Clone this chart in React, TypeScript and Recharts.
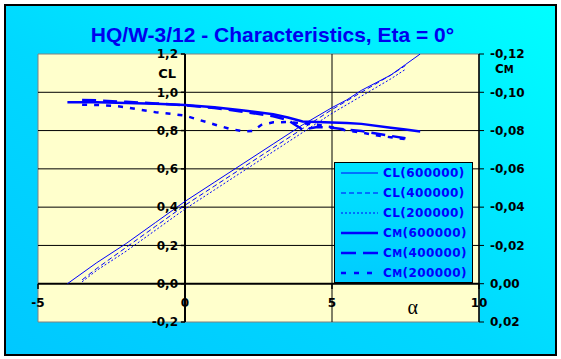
import {
  CartesianGrid,
  Legend,
  Line,
  LineChart,
  ReferenceArea,
  ReferenceDot,
  ReferenceLine,
  XAxis,
  YAxis,
} from "recharts";

const alphaTicks = [-5, 0, 5, 10];
const clTicks = [-0.2, 0, 0.2, 0.4, 0.6, 0.8, 1.0, 1.2];
const clGrid = [0.2, 0.4, 0.6, 0.8, 1.0];
const cmTicks = [-0.12, -0.1, -0.08, -0.06, -0.04, -0.02, 0, 0.02];

const alphaCl600 = [-4, -3, -2, -1, 0, 1, 2, 3, 4, 5, 5.5, 6, 6.5, 7, 7.5, 8];
const cl600 = [0.0, 0.11, 0.21, 0.32, 0.43, 0.53, 0.63, 0.73, 0.83, 0.92, 0.96, 1.01, 1.05, 1.09, 1.145, 1.2];

const alphaCl400 = [-3.5, -3, -2, -1, 0, 1, 2, 3, 4, 5, 6, 7, 7.5];
const cl400 = [0.02, 0.08, 0.19, 0.3, 0.41, 0.51, 0.61, 0.71, 0.81, 0.91, 1.0, 1.09, 1.14];

const alphaCl200 = [-3.5, -3, -2, -1, 0, 1, 2, 3, 4, 5, 6, 7, 7.5];
const cl200 = [0.01, 0.07, 0.17, 0.28, 0.39, 0.49, 0.59, 0.69, 0.79, 0.89, 0.98, 1.07, 1.12];

const alphaCm600 = [-4, -3, -2, -1, 0, 1, 2, 3, 3.5, 4, 5, 5.5, 6, 7, 7.5, 8];
const cm600 = [-0.0948, -0.0948, -0.0944, -0.094, -0.0934, -0.0922, -0.0905, -0.0885, -0.0868, -0.0848, -0.0842, -0.084, -0.0835, -0.0815, -0.0805, -0.0795];

const alphaCm400 = [-3.5, -3, -2, -1, 0, 1, 2, 3, 3.5, 4, 4.5, 5, 5.5, 6, 6.5, 7, 7.5];
const cm400 = [-0.096, -0.0958, -0.095, -0.0942, -0.0932, -0.0918, -0.0898, -0.0875, -0.0855, -0.0805, -0.0818, -0.0815, -0.0805, -0.0798, -0.0785, -0.0772, -0.076];

const alphaCm200 = [-3.5, -3, -2.5, -2, -1.5, -1, -0.5, 0, 0.5, 1, 1.5, 2, 2.3, 2.6, 3, 3.5, 4, 4.5, 5, 5.5, 6, 6.5, 7, 7.5];
const cm200 = [-0.0935, -0.0934, -0.093, -0.0922, -0.0908, -0.0896, -0.0888, -0.0878, -0.0855, -0.0832, -0.081, -0.0795, -0.0798, -0.083, -0.0843, -0.0845, -0.0838, -0.083, -0.0818, -0.08, -0.079, -0.0775, -0.0765, -0.0755];

const BLUE = "#0000ff";
const AXIS_FONT = '"DejaVu Sans", sans-serif';

type Series = {
  key: string;
  name: string;
  sub: string;
  axis: "cl" | "cm";
  alpha: number[];
  values: number[];
  width: number;
  dash?: string;
  legendDash?: string;
};

const series: Series[] = [
  { key: "cl600", name: "L", sub: "(600000)", axis: "cl", alpha: alphaCl600, values: cl600, width: 1 },
  { key: "cl400", name: "L", sub: "(400000)", axis: "cl", alpha: alphaCl400, values: cl400, width: 1, dash: "5 3", legendDash: "5 3" },
  { key: "cl200", name: "L", sub: "(200000)", axis: "cl", alpha: alphaCl200, values: cl200, width: 1, dash: "2 2", legendDash: "2 2" },
  { key: "cm600", name: "M", sub: "(600000)", axis: "cm", alpha: alphaCm600, values: cm600, width: 2.5 },
  { key: "cm400", name: "M", sub: "(400000)", axis: "cm", alpha: alphaCm400, values: cm400, width: 2.5, dash: "14 7", legendDash: "15 7" },
  { key: "cm200", name: "M", sub: "(200000)", axis: "cm", alpha: alphaCm200, values: cm200, width: 2.5, dash: "5 7", legendDash: "5 8" },
];

function toPoints(alpha: number[], values: number[]) {
  return alpha.map((a, i) => ({ a, v: values[i] }));
}

function fmt(value: number, digits: number) {
  return value.toFixed(digits).replace(".", ",");
}

function LegendBox() {
  return (
    <div
      style={{
        width: 139,
        height: 121,
        boxSizing: "border-box",
        border: "1px solid #000",
        background: "linear-gradient(#00e4ff, #00ccff)",
      }}
    >
      {series.map((s) => (
        <div key={s.key} style={{ display: "flex", alignItems: "center", height: 20 }}>
          <svg width={44} height={20}>
            <line
              x1={6}
              x2={43}
              y1={10}
              y2={10}
              stroke={BLUE}
              strokeWidth={s.width}
              strokeDasharray={s.legendDash}
            />
          </svg>
          <span
            style={{
              marginLeft: 4,
              font: `bold 12px ${AXIS_FONT}`,
              color: BLUE,
              letterSpacing: 0.4,
              whiteSpace: "nowrap",
            }}
          >
            C<span style={{ fontSize: s.name === "M" ? 10 : 12 }}>{s.name}</span>
            {s.sub}
          </span>
        </div>
      ))}
    </div>
  );
}

function CmLabel({ viewBox }: { viewBox?: { x: number; y: number } }) {
  if (!viewBox) return null;
  return (
    <text
      x={viewBox.x + 16}
      y={viewBox.y + 19}
      fontFamily={AXIS_FONT}
      fontWeight="bold"
      fontSize={12}
      fill="#000"
    >
      C<tspan fontSize={10}>M</tspan>
    </text>
  );
}

const labelStyle = {
  fontFamily: AXIS_FONT,
  fontWeight: "bold",
  fontSize: 12,
  fill: "#000",
};

export default function App() {
  return (
    <div
      style={{
        position: "absolute",
        left: 0,
        top: 0,
        width: 561,
        height: 359,
        background: "#fff",
      }}
    >
      <div
        style={{
          position: "absolute",
          left: 4,
          top: 4,
          width: 549,
          height: 348,
          border: "2px solid #000",
          background: "linear-gradient(to top right, #00c8ff 0%, #00d8ff 45%, #00ffff 100%)",
        }}
      />
      <div
        style={{
          position: "absolute",
          left: 0,
          top: 23,
          width: 545,
          textAlign: "center",
          font: 'bold 21px "Liberation Sans", Arial, sans-serif',
          lineHeight: "24px",
          color: "#0000ee",
        }}
      >
        HQ/W-3/12 - Characteristics, Eta = 0°
      </div>
      <div style={{ position: "absolute", left: 0, top: 0 }}>
        <LineChart
          width={561}
          height={359}
          margin={{ top: 54, right: 22, bottom: 37, left: 38 }}
        >
          <CartesianGrid
            yAxisId="cl"
            fill="#ffffcc"
            horizontal={false}
            vertical={false}
          />
          <XAxis
            type="number"
            dataKey="a"
            domain={[-5, 10]}
            ticks={alphaTicks}
            allowDataOverflow
            hide
          />
          <YAxis yAxisId="cl" type="number" domain={[-0.2, 1.2]} allowDataOverflow hide />
          <YAxis
            yAxisId="cm"
            orientation="right"
            type="number"
            domain={[-0.12, 0.02]}
            ticks={cmTicks}
            reversed
            allowDataOverflow
            width={60}
            axisLine={{ stroke: "#000", strokeWidth: 1.5 }}
            tickLine={{ stroke: "#000" }}
            tickSize={5}
            tickMargin={6}
            tick={{ ...labelStyle }}
            tickFormatter={(v) => fmt(Number(v), 2)}
            label={<CmLabel />}
          />
          <ReferenceArea
            yAxisId="cl"
            x1={-5}
            x2={10}
            y1={-0.2}
            y2={1.2}
            fill="none"
            stroke="#808080"
            strokeWidth={1}
          />
          {clGrid.map((v) => (
            <ReferenceLine key={`g${v}`} yAxisId="cl" y={v} stroke="#000" strokeWidth={1} />
          ))}
          <ReferenceLine yAxisId="cl" x={5} stroke="#000" strokeWidth={1} />
          <ReferenceLine yAxisId="cl" y={0} stroke="#000" strokeWidth={2} />
          <ReferenceLine yAxisId="cl" x={0} stroke="#000" strokeWidth={2} />
          {clTicks.map((v) => (
            <ReferenceLine
              key={`t${v}`}
              yAxisId="cl"
              segment={[
                { x: -0.14, y: v },
                { x: 0, y: v },
              ]}
              stroke="#000"
              strokeWidth={1.5}
            />
          ))}
          {alphaTicks.map((v) => (
            <ReferenceLine
              key={`xt${v}`}
              yAxisId="cl"
              segment={[
                { x: v, y: 0 },
                { x: v, y: -0.027 },
              ]}
              stroke="#000"
              strokeWidth={1.5}
            />
          ))}
          {clTicks.map((v) => (
            <ReferenceDot
              key={`l${v}`}
              yAxisId="cl"
              x={0}
              y={v}
              r={0}
              fill="none"
              stroke="none"
              label={{ value: fmt(v, 1), position: "left", offset: 7, style: labelStyle }}
            />
          ))}
          {alphaTicks.map((v) => (
            <ReferenceDot
              key={`xl${v}`}
              yAxisId="cl"
              x={v}
              y={0}
              r={0}
              fill="none"
              stroke="none"
              label={{ value: String(v), position: "bottom", offset: 15, style: labelStyle }}
            />
          ))}
          <ReferenceDot
            yAxisId="cl"
            x={0}
            y={1.1}
            r={0}
            fill="none"
            stroke="none"
            label={{ value: "CL", position: "left", offset: 9, style: { ...labelStyle, fontSize: 13 } }}
          />
          <ReferenceDot
            yAxisId="cl"
            x={7.75}
            y={-0.12}
            r={0}
            fill="none"
            stroke="none"
            label={{
              value: "α",
              position: "center",
              style: { fontFamily: '"Liberation Serif", serif', fontSize: 20, fill: "#000" },
            }}
          />
          {series.map((s) => (
            <Line
              key={s.key}
              yAxisId={s.axis}
              data={toPoints(s.alpha, s.values)}
              dataKey="v"
              type="linear"
              stroke={BLUE}
              strokeWidth={s.width}
              strokeDasharray={s.dash}
              dot={false}
              isAnimationActive={false}
            />
          ))}
          <Legend
            layout="horizontal"
            verticalAlign="middle"
            align="center"
            content={<LegendBox />}
            wrapperStyle={{ position: "absolute", left: 334, top: 162, width: 139, height: 121 }}
          />
        </LineChart>
      </div>
    </div>
  );
}
